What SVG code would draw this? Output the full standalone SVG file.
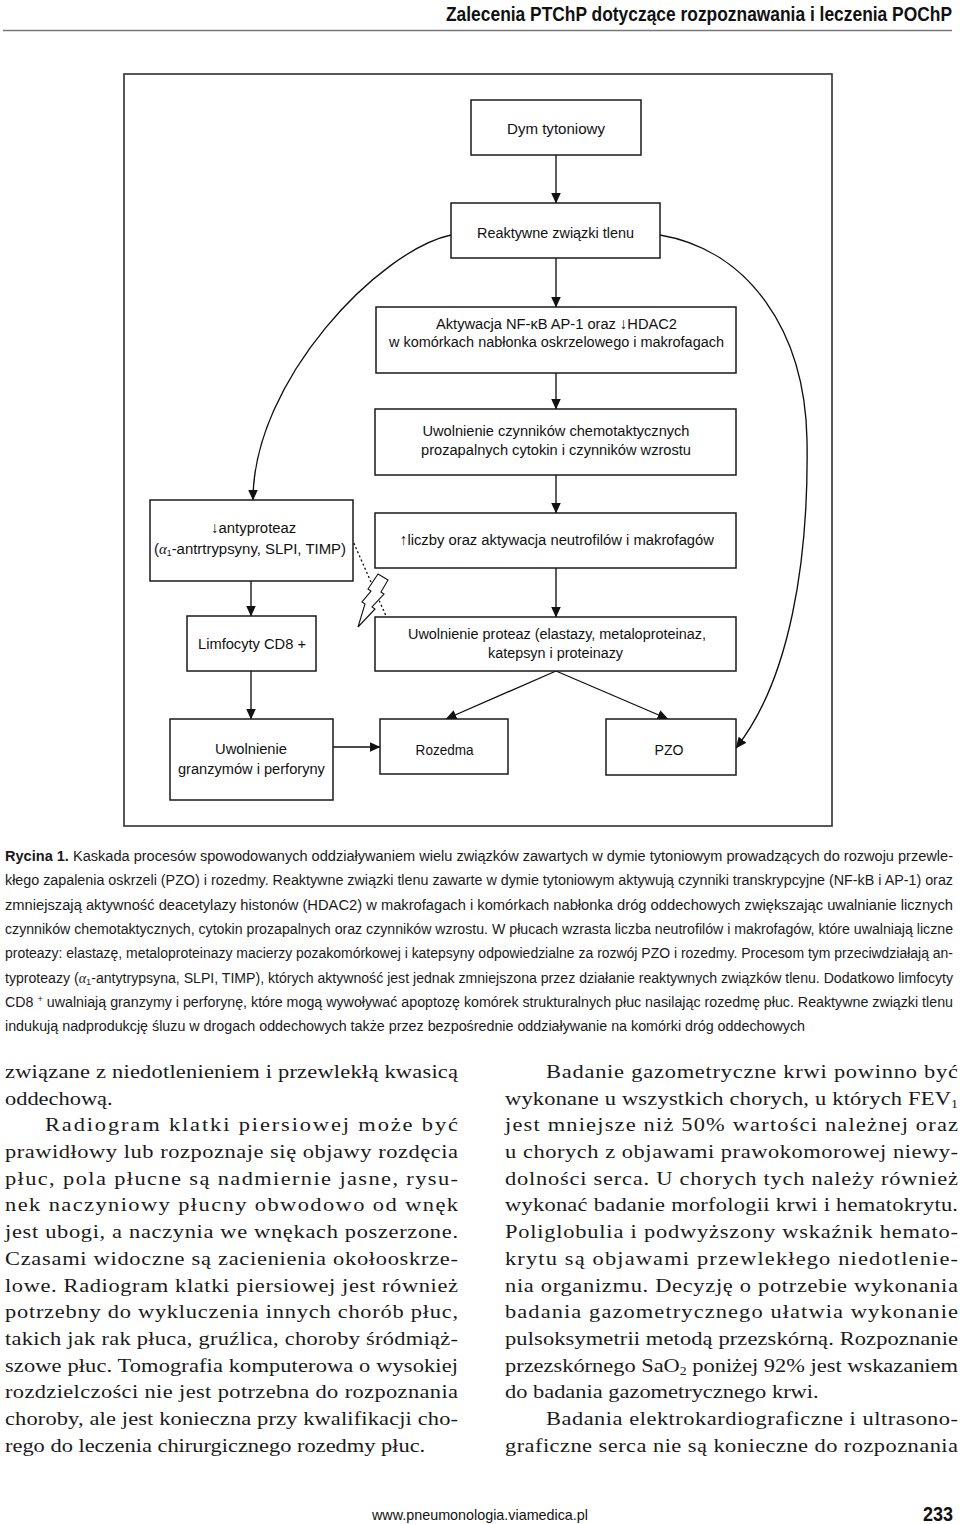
<svg xmlns="http://www.w3.org/2000/svg" width="960" height="1524" viewBox="0 0 960 1524">
<defs>
<marker id="ah" markerUnits="userSpaceOnUse" markerWidth="11" markerHeight="10" viewBox="0 0 11 10" refX="10.5" refY="5" orient="auto"><path d="M0,0 L11,5 L0,10 z" fill="#111"/></marker>
<style>
.box{fill:#fff;stroke:#1a1a1a;stroke-width:1.5}
.frame{fill:none;stroke:#3c3c3c;stroke-width:1.7}
.t{font-family:"Liberation Sans",Arial,sans-serif;font-size:15.5px;fill:#111;text-anchor:middle}
.conn{fill:none;stroke:#111;stroke-width:1.35}
.cap{font-family:"Liberation Sans",Arial,sans-serif;font-size:13.8px;fill:#1a1a1a}
.body{font-family:"Liberation Serif","Times New Roman",serif;font-size:19.5px;fill:#1a1a1a}
.gr{font-family:"Liberation Serif",serif;font-style:italic}
</style>
</defs>
<rect width="960" height="1524" fill="#fff"/>

<g id="header">
<text transform="translate(446,21) scale(0.87,1)" x="0" y="0" font-family="Liberation Sans,Arial,sans-serif" font-weight="bold" font-size="20" fill="#111" textLength="581.6" lengthAdjust="spacingAndGlyphs">Zalecenia PTChP dotyczące rozpoznawania i leczenia POChP</text>
<line x1="3" y1="30.5" x2="952" y2="30.5" stroke="#777" stroke-width="1.3"/>
</g>

<rect class="frame" x="124" y="74" width="708" height="752"/>

<g id="connectors">
<path class="conn" d="M556,155 V203" marker-end="url(#ah)"/>
<path class="conn" d="M556,258 V307" marker-end="url(#ah)"/>
<path class="conn" d="M556,373 V409" marker-end="url(#ah)"/>
<path class="conn" d="M556,475 V513" marker-end="url(#ah)"/>
<path class="conn" d="M556,568 V617" marker-end="url(#ah)"/>
<path class="conn" d="M556,671 L446,719" marker-end="url(#ah)"/>
<path class="conn" d="M556,671 L668,719" marker-end="url(#ah)"/>
<path class="conn" d="M451,235 C380,250 253,380 253,500" marker-end="url(#ah)"/>
<path class="conn" d="M660,235 C748,250 805,330 807,440 C809,560 790,680 736,748" marker-end="url(#ah)"/>
<path class="conn" d="M251,581 V616" marker-end="url(#ah)"/>
<path class="conn" d="M251,671 V719" marker-end="url(#ah)"/>
<path class="conn" d="M333,747 H380" marker-end="url(#ah)"/>
<path class="conn" d="M352,539 L386,616" stroke-dasharray="2 2.5" stroke-width="1.2"/>
<polygon points="378,574 388,580 381,592 384,594 372,607 375,609 358,627 365,604 362,602 371,591 368,589" fill="#fff" stroke="#111" stroke-width="1.1" stroke-linejoin="miter"/>
</g>

<g id="n-dym">
<rect class="box" x="471" y="100" width="170" height="55"/>
<text class="t" x="556" y="134" textLength="98" lengthAdjust="spacingAndGlyphs">Dym tytoniowy</text>
</g>
<g id="n-rft">
<rect class="box" x="451" y="203" width="209" height="55"/>
<text class="t" x="555.5" y="237.5" textLength="157" lengthAdjust="spacingAndGlyphs">Reaktywne związki tlenu</text>
</g>
<g id="n-aktywacja">
<rect class="box" x="376" y="307" width="360" height="66"/>
<text class="t" x="556.5" y="329" textLength="241" lengthAdjust="spacingAndGlyphs">Aktywacja NF-κB AP-1 oraz ↓HDAC2</text>
<text class="t" x="556.5" y="347" textLength="335" lengthAdjust="spacingAndGlyphs">w komórkach nabłonka oskrzelowego i makrofagach</text>
</g>
<g id="n-czynniki">
<rect class="box" x="375" y="409" width="361" height="66"/>
<text class="t" x="556" y="436" textLength="267" lengthAdjust="spacingAndGlyphs">Uwolnienie czynników chemotaktycznych</text>
<text class="t" x="556" y="454.5" textLength="270" lengthAdjust="spacingAndGlyphs">prozapalnych cytokin i czynników wzrostu</text>
</g>
<g id="n-liczby">
<rect class="box" x="375" y="513" width="361" height="55"/>
<text class="t" x="557" y="545" textLength="314" lengthAdjust="spacingAndGlyphs">↑liczby oraz aktywacja neutrofilów i makrofagów</text>
</g>
<g id="n-proteazy">
<rect class="box" x="375" y="617" width="361" height="54"/>
<text class="t" x="557" y="639" textLength="298" lengthAdjust="spacingAndGlyphs">Uwolnienie proteaz (elastazy, metaloproteinaz,</text>
<text class="t" x="555.5" y="657.5" textLength="135" lengthAdjust="spacingAndGlyphs">katepsyn i proteinazy</text>
</g>
<g id="n-antyproteazy">
<rect class="box" x="150" y="500" width="203" height="81"/>
<text class="t" x="253.7" y="533" textLength="85" lengthAdjust="spacingAndGlyphs">↓antyproteaz</text>
<text class="t" x="250" y="553.5" textLength="192" lengthAdjust="spacingAndGlyphs">(<tspan class="gr">α</tspan><tspan font-size="9" dy="2">1</tspan><tspan dy="-2">-antrtrypsyny, SLPI, TIMP)</tspan></text>
</g>
<g id="n-limfocyty">
<rect class="box" x="187" y="616" width="129" height="55"/>
<text class="t" x="252" y="648.5" textLength="108" lengthAdjust="spacingAndGlyphs">Limfocyty CD8 +</text>
</g>
<g id="n-granzymy">
<rect class="box" x="170" y="719" width="163" height="81"/>
<text class="t" x="251" y="754" textLength="72" lengthAdjust="spacingAndGlyphs">Uwolnienie</text>
<text class="t" x="251.4" y="773.5" textLength="147" lengthAdjust="spacingAndGlyphs">granzymów i perforyny</text>
</g>
<g id="n-rozedma">
<rect class="box" x="380" y="719" width="128" height="55"/>
<text class="t" x="444.6" y="755" textLength="58" lengthAdjust="spacingAndGlyphs">Rozedma</text>
</g>
<g id="n-pzo">
<rect class="box" x="606" y="719" width="130" height="56"/>
<text class="t" x="669" y="755" textLength="29" lengthAdjust="spacingAndGlyphs">PZO</text>
</g>

<g id="caption" class="cap">
<text x="5" y="861" textLength="948" lengthAdjust="spacingAndGlyphs"><tspan font-weight="bold">Rycina 1.</tspan> Kaskada procesów spowodowanych oddziaływaniem wielu związków zawartych w dymie tytoniowym prowadzących do rozwoju przewle-</text>
<text x="5" y="885.3" textLength="948" lengthAdjust="spacingAndGlyphs">kłego zapalenia oskrzeli (PZO) i rozedmy. Reaktywne związki tlenu zawarte w dymie tytoniowym aktywują czynniki transkrypcyjne (NF-kB i AP-1) oraz</text>
<text x="5" y="909.6" textLength="948" lengthAdjust="spacingAndGlyphs">zmniejszają aktywność deacetylazy histonów (HDAC2) w makrofagach i komórkach nabłonka dróg oddechowych zwiększając uwalnianie licznych</text>
<text x="5" y="933.9" textLength="948" lengthAdjust="spacingAndGlyphs">czynników chemotaktycznych, cytokin prozapalnych oraz czynników wzrostu. W płucach wzrasta liczba neutrofilów i makrofagów, które uwalniają liczne</text>
<text x="5" y="958.2" textLength="948" lengthAdjust="spacingAndGlyphs">proteazy: elastazę, metaloproteinazy macierzy pozakomórkowej i katepsyny odpowiedzialne za rozwój PZO i rozedmy. Procesom tym przeciwdziałają an-</text>
<text x="5" y="982.5" textLength="948" lengthAdjust="spacingAndGlyphs">typroteazy (<tspan class="gr">α</tspan><tspan font-size="9" dy="2">1</tspan><tspan dy="-2">-antytrypsyna, SLPI, TIMP), których aktywność jest jednak zmniejszona przez działanie reaktywnych związków tlenu. Dodatkowo limfocyty</tspan></text>
<text x="5" y="1006.8" textLength="948" lengthAdjust="spacingAndGlyphs">CD8 <tspan font-size="9" dy="-5">+</tspan><tspan dy="5"> uwalniają granzymy i perforynę, które mogą wywoływać apoptozę komórek strukturalnych płuc nasilając rozedmę płuc. Reaktywne związki tlenu</tspan></text>
<text x="5" y="1031.1" textLength="800" lengthAdjust="spacingAndGlyphs">indukują nadprodukcję śluzu w drogach oddechowych także przez bezpośrednie oddziaływanie na komórki dróg oddechowych</text>
</g>

<g id="body" class="body" transform="scale(1.15,1)">
<text x="4.35" y="1078" textLength="393.9">związane z niedotlenieniem i przewlekłą kwasicą</text>
<text x="4.35" y="1104.7">oddechową.</text>
<text x="39.13" y="1131.4" textLength="359.1">Radiogram klatki piersiowej może być</text>
<text x="4.35" y="1158.1" textLength="393.9">prawidłowy lub rozpoznaje się objawy rozdęcia</text>
<text x="4.35" y="1184.8" textLength="393.9">płuc, pola płucne są nadmiernie jasne, rysu-</text>
<text x="4.35" y="1211.5" textLength="393.9">nek naczyniowy płucny obwodowo od wnęk</text>
<text x="4.35" y="1238.2" textLength="393.9">jest ubogi, a naczynia we wnękach poszerzone.</text>
<text x="4.35" y="1264.9" textLength="393.9">Czasami widoczne są zacienienia okołooskrze-</text>
<text x="4.35" y="1291.6" textLength="393.9">lowe. Radiogram klatki piersiowej jest również</text>
<text x="4.35" y="1318.3" textLength="393.9">potrzebny do wykluczenia innych chorób płuc,</text>
<text x="4.35" y="1345" textLength="393.9">takich jak rak płuca, gruźlica, choroby śródmiąż-</text>
<text x="4.35" y="1371.7" textLength="393.9">szowe płuc. Tomografia komputerowa o wysokiej</text>
<text x="4.35" y="1398.4" textLength="393.9">rozdzielczości nie jest potrzebna do rozpoznania</text>
<text x="4.35" y="1425.1" textLength="393.9">choroby, ale jest konieczna przy kwalifikacji cho-</text>
<text x="4.35" y="1451.8">rego do leczenia chirurgicznego rozedmy płuc.</text>

<text x="474.78" y="1078" textLength="358.3">Badanie gazometryczne krwi powinno być</text>
<text x="439.13" y="1104.7" textLength="393.9">wykonane u wszystkich chorych, u których FEV<tspan font-size="12" dy="3">1</tspan></text>
<text x="439.13" y="1131.4" textLength="393.9">jest mniejsze niż 50% wartości należnej oraz</text>
<text x="439.13" y="1158.1" textLength="393.9">u chorych z objawami prawokomorowej niewy-</text>
<text x="439.13" y="1184.8" textLength="393.9">dolności serca. U chorych tych należy również</text>
<text x="439.13" y="1211.5" textLength="393.9">wykonać badanie morfologii krwi i hematokrytu.</text>
<text x="439.13" y="1238.2" textLength="393.9">Poliglobulia i podwyższony wskaźnik hemato-</text>
<text x="439.13" y="1264.9" textLength="393.9">krytu są objawami przewlekłego niedotlenie-</text>
<text x="439.13" y="1291.6" textLength="393.9">nia organizmu. Decyzję o potrzebie wykonania</text>
<text x="439.13" y="1318.3" textLength="393.9">badania gazometrycznego ułatwia wykonanie</text>
<text x="439.13" y="1345" textLength="393.9">pulsoksymetrii metodą przezskórną. Rozpoznanie</text>
<text x="439.13" y="1371.7" textLength="393.9">przezskórnego SaO<tspan font-size="12" dy="3">2</tspan><tspan dy="-3"> poniżej 92% jest wskazaniem</tspan></text>
<text x="439.13" y="1398.4">do badania gazometrycznego krwi.</text>
<text x="474.78" y="1425.1" textLength="358.3">Badania elektrokardiograficzne i ultrasono-</text>
<text x="439.13" y="1451.8" textLength="393.9">graficzne serca nie są konieczne do rozpoznania</text>
</g>

<g id="footer">
<text x="372" y="1520" font-family="Liberation Sans,Arial,sans-serif" font-size="14.3" fill="#111" textLength="216" lengthAdjust="spacingAndGlyphs">www.pneumonologia.viamedica.pl</text>
<text x="923" y="1521" font-family="Liberation Sans,Arial,sans-serif" font-weight="bold" font-size="21" fill="#111" textLength="30" lengthAdjust="spacingAndGlyphs">233</text>
</g>
</svg>
